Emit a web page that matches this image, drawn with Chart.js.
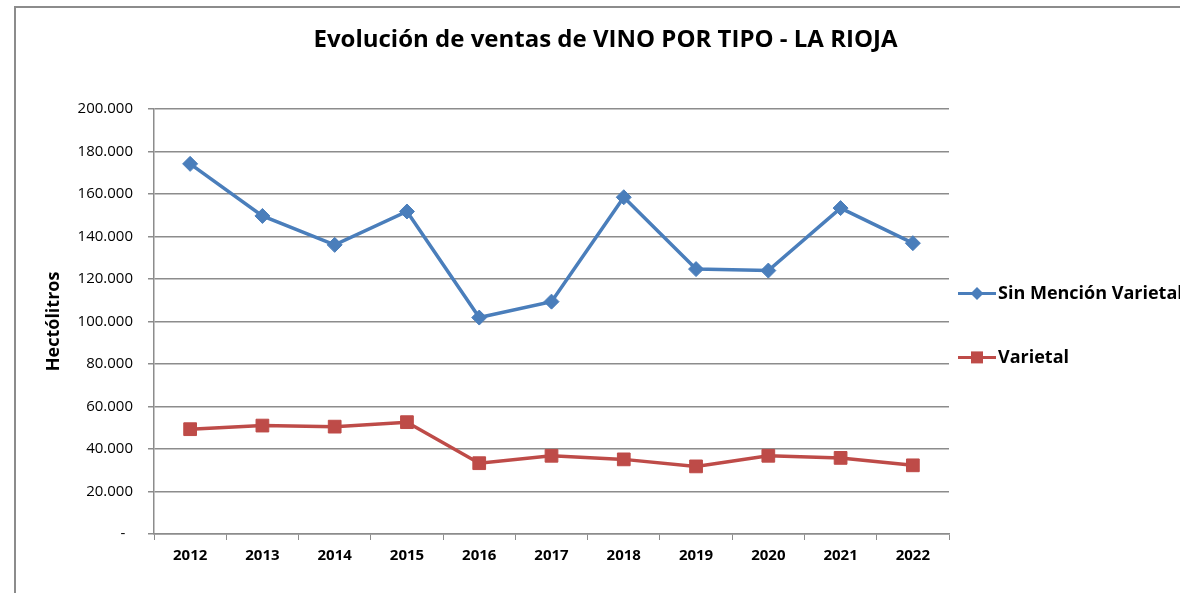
<!DOCTYPE html>
<html>
<head>
<meta charset="utf-8">
<script src="https://cdn.jsdelivr.net/npm/chart.js@4.4.0/dist/chart.umd.min.js"></script>
<style>
  html, body { margin: 0; padding: 0; background: #fff; overflow: hidden; }
  #marco { position: absolute; left: 14px; top: 6px; width: 1400px; height: 800px;
           border-left: 2px solid #8c8c8c; border-top: 2px solid #8c8c8c; }
  #wrap { position: absolute; left: 0; top: 0; width: 1180px; height: 593px; }
</style>
</head>
<body>
<div id="marco"></div>
<div id="wrap"><canvas id="chart"></canvas></div>
<script>
// ventas anuales en hectolitros
const anios = ['2012', '2013', '2014', '2015', '2016', '2017', '2018', '2019', '2020', '2021', '2022'];
const sinMencion = [174100, 149600, 136000, 151700, 101800, 109300, 158400, 124600, 123900, 153300, 136800];
const varietal = [49300, 51000, 50500, 52600, 33300, 36800, 35100, 31800, 36800, 35800, 32300];

const ejeMax = 200000;
const ejePaso = 20000;

const fuente = "'Open Sans', sans-serif";

function etiquetaY(v) {
  if (v === 0) return '-  ';
  return v.toLocaleString('de-DE');
}

// leyenda estilo excel: linea + marcador + texto
const leyenda = {
  id: 'leyenda',
  afterDraw(chart) {
    const ctx = chart.ctx;
    const area = chart.chartArea;
    const x0 = area.right + 9;
    const medio = (area.top + area.bottom) / 2;
    const filas = [medio - 28, medio + 36];
    chart.data.datasets.forEach((ds, i) => {
      const y = filas[i];
      const cx = x0 + 19;
      ctx.save();
      ctx.strokeStyle = ds.borderColor;
      ctx.lineWidth = 3;
      ctx.beginPath();
      ctx.moveTo(x0, y);
      ctx.lineTo(x0 + 38, y);
      ctx.stroke();
      ctx.fillStyle = ds.borderColor;
      ctx.beginPath();
      if (ds.pointStyle === 'rectRot') {
        ctx.moveTo(cx - 6.5, y); ctx.lineTo(cx, y - 6.5);
        ctx.lineTo(cx + 6.5, y); ctx.lineTo(cx, y + 6.5);
      } else {
        ctx.rect(cx - 6, y - 6, 12, 12);
      }
      ctx.closePath();
      ctx.fill();
      ctx.fillStyle = '#000';
      ctx.font = 'bold 18px ' + fuente;
      ctx.textAlign = 'left';
      ctx.textBaseline = 'middle';
      ctx.fillText(ds.label, x0 + 40, y);
      ctx.restore();
    });
  }
};

new Chart('chart', {
  type: 'line',
  data: {
    labels: anios,
    datasets: [{
      label: 'Sin Mención Varietal',
      data: sinMencion,
      borderColor: '#4a7ebb',
      backgroundColor: '#4a7ebb',
      borderWidth: 3.5,
      pointStyle: 'rectRot',
      pointRadius: 7.5,
      pointBorderWidth: 1,
      tension: 0
    }, {
      label: 'Varietal',
      data: varietal,
      borderColor: '#be4b48',
      backgroundColor: '#be4b48',
      borderWidth: 3.5,
      pointStyle: 'rect',
      pointRadius: 9,
      pointBorderWidth: 1,
      tension: 0
    }]
  },
  options: {
    responsive: true,
    maintainAspectRatio: false,
    animation: false,
    layout: { padding: { left: 31, right: 0, top: 0, bottom: 0 } },
    plugins: {
      legend: { display: false },
      tooltip: { enabled: false },
      title: {
        display: true,
        text: 'Evolución de ventas de VINO POR TIPO - LA RIOJA',
        color: '#000',
        font: { family: fuente, size: 24, weight: 'bold' },
        padding: { top: 26, bottom: 54 }
      }
    },
    scales: {
      x: {
        offset: true,
        afterFit: s => { s.height = 59; },
        grid: { offset: true, drawOnChartArea: false, drawTicks: true, tickLength: 6, color: '#8c8c8c' },
        border: { color: '#8c8c8c', width: 1.5 },
        ticks: { color: '#000', padding: 7, maxRotation: 0, font: { family: fuente, size: 15, weight: 'bold' } }
      },
      y: {
        min: 0,
        max: ejeMax,
        afterFit: s => { s.width = 123; },
        grid: { color: '#8c8c8c', lineWidth: 1.5, tickLength: 6 },
        border: { color: '#8c8c8c', width: 1.5 },
        ticks: {
          stepSize: ejePaso,
          color: '#000',
          padding: 15,
          font: { family: fuente, size: 15 },
          callback: v => etiquetaY(v)
        },
        title: {
          display: true,
          text: 'Hectólitros',
          color: '#000',
          font: { family: fuente, size: 18, weight: 'bold' },
          padding: { top: 12, bottom: 0 }
        }
      },
      // hueco a la derecha donde va la leyenda
      hueco: {
        position: 'right',
        display: true,
        afterFit: s => { s.width = 231; },
        grid: { display: false },
        border: { display: false },
        ticks: { display: false }
      }
    }
  },
  plugins: [leyenda]
});
</script>
</body>
</html>
